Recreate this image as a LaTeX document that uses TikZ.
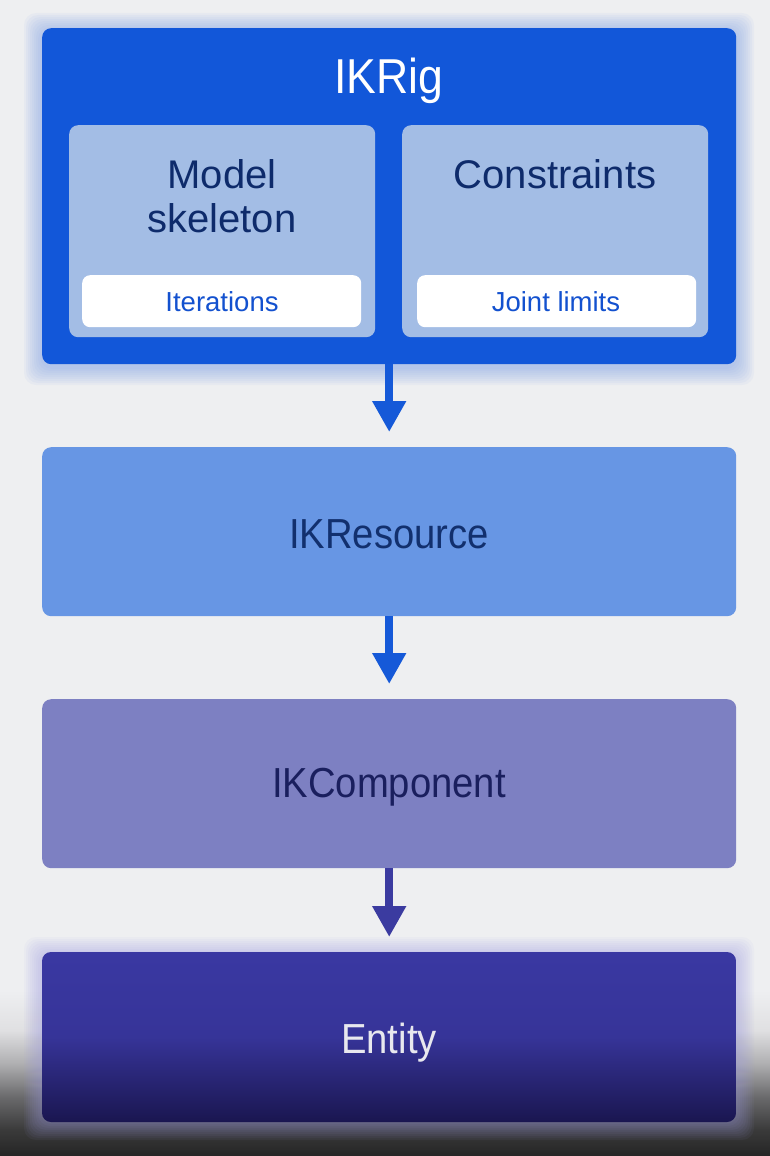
\documentclass[tikz,border=0pt]{standalone}
\usepackage{fontspec}
\setmainfont[FakeStretch=0.91]{Liberation Sans}
\newfontfamily\widefont{Liberation Sans}
\usetikzlibrary{arrows.meta}
\definecolor{bgc}{HTML}{EEEFF1}
\definecolor{rigc}{HTML}{1257D9}
\definecolor{subc}{HTML}{A3BDE5}
\definecolor{navy}{HTML}{0E2B6B}
\definecolor{itc}{HTML}{1351CF}
\definecolor{resc}{HTML}{6796E4}
\definecolor{restext}{HTML}{12306E}
\definecolor{compc}{HTML}{7D80C2}
\definecolor{comptext}{HTML}{1A1F5E}
\definecolor{enttop}{HTML}{3A38A2}
\definecolor{entbot}{HTML}{1A1650}
\definecolor{enttext}{HTML}{E8E8EE}
\definecolor{arr1}{HTML}{1559D8}
\definecolor{arr3}{HTML}{3B3BA0}
\definecolor{halo1}{HTML}{7FA2EA}
\definecolor{halo2}{HTML}{9C9AE0}
\definecolor{v0}{HTML}{252525}
\definecolor{v1}{HTML}{3A3A3A}
\definecolor{v2}{HTML}{6A6A6C}
\definecolor{v3}{HTML}{B0B0B2}
\definecolor{v4}{HTML}{E0E0E2}
\pgfdeclareverticalshading{vignette}{100bp}{color(0bp)=(v0); color(25bp)=(v0); color(32.4bp)=(v1); color(41.8bp)=(v2); color(51.4bp)=(v3); color(60.8bp)=(v4); color(72bp)=(bgc); color(100bp)=(bgc)}
\tikzset{
  x=1pt, y=-1pt,
  bigbox/.style={rounded corners=9pt, draw=none},
  flowarrow/.style={line width=8pt, -{Triangle[length=31pt,width=32pt]}},
  lbl/.style={anchor=base, inner sep=0pt, font=\fontsize{42}{48}\selectfont},
  sublbl/.style={anchor=base, inner sep=0pt, text=navy, font=\widefont\fontsize{40}{46}\selectfont},
  chiplbl/.style={anchor=base, inner sep=0pt, text=itc, font=\widefont\fontsize{27.5}{32}\selectfont},
}
\begin{document}
\begin{tikzpicture}
\useasboundingbox (0,0) rectangle (770,1156);
\fill[bgc] (0,0) rectangle (770,1156);
\shade[shading=vignette] (0,980) rectangle (770,1156);
% halos
\foreach \d in {2,4,...,18}{
  \fill[rounded corners=12pt, halo1, opacity=0.07] (42-\d,28-\d+3) rectangle (736+\d,364+\d+3);
  \fill[rounded corners=12pt, halo2, opacity=0.06] (42-\d,952-\d+3) rectangle (736+\d,1122+\d);
}
% boxes
\node[bigbox, fill=rigc, minimum width=694pt, minimum height=336pt, anchor=north west] (rig) at (42,28) {};
\node[bigbox, fill=subc, minimum width=306pt, minimum height=212pt, anchor=north west] (ms) at (69,125) {};
\node[bigbox, fill=subc, minimum width=306pt, minimum height=212pt, anchor=north west] (cons) at (402,125) {};
\node[rounded corners=8pt, fill=white, minimum width=279pt, minimum height=52pt, anchor=north west] (iter) at (82,275) {};
\node[rounded corners=8pt, fill=white, minimum width=279pt, minimum height=52pt, anchor=north west] (joint) at (417,275) {};
\node[bigbox, fill=resc, minimum width=694pt, minimum height=169pt, anchor=north west] (res) at (42,447) {};
\node[bigbox, fill=compc, minimum width=694pt, minimum height=169pt, anchor=north west] (comp) at (42,699) {};
\shade[rounded corners=9pt, top color=enttop, bottom color=entbot, middle color=enttop!88!entbot] (42,952) rectangle (736,1122);
\node[minimum width=694pt, minimum height=170pt, anchor=north west, inner sep=0pt] (ent) at (42,952) {};
% texts
\node[lbl, text=white, font=\fontsize{49}{56}\selectfont] (t1) at (389,93) {IKRig};
\node[sublbl] (t2) at (222,188) {Model};
\node[sublbl] (t3) at (222,232) {skeleton};
\node[sublbl] (t4) at (555,188) {Constraints};
\node[chiplbl] (t5) at (222,311) {Iterations};
\node[chiplbl] (t6) at (556,311) {Joint limits};
\node[lbl, text=restext] (t7) at (389,548) {IKResource};
\node[lbl, text=comptext] (t8) at (389,797) {IKComponent};
\node[lbl, text=enttext] (t9) at (389,1053) {Entity};
% arrows
\draw[flowarrow, arr1] (rig.south) -- ([yshift=15pt]res.north);
\draw[flowarrow, arr1] (res.south) -- ([yshift=15pt]comp.north);
\draw[flowarrow, arr3] (comp.south) -- ([yshift=15pt]ent.north);
\end{tikzpicture}
\end{document}
